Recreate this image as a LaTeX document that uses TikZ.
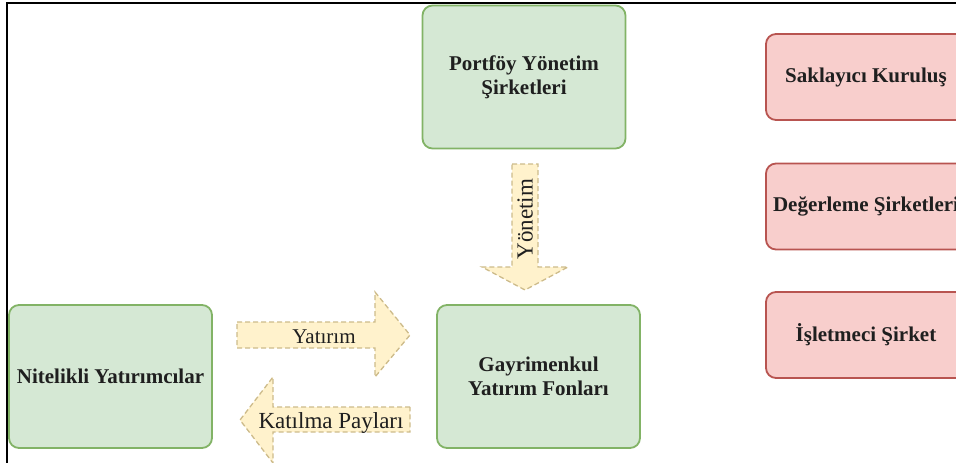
\documentclass[tikz,border=0pt]{standalone}
\usepackage{fontspec}
\setmainfont{Liberation Serif}
\definecolor{fongreen}{HTML}{D5E8D4}
\definecolor{fongreenline}{HTML}{82B366}
\definecolor{kurumred}{HTML}{F8CECC}
\definecolor{kurumredline}{HTML}{B85450}
\definecolor{okfill}{HTML}{FFF2CC}
\definecolor{okline}{HTML}{CDBB8A}
\begin{document}
\begin{tikzpicture}[x=1pt,y=-1pt]
\tikzstyle{every node}=[font=\fontsize{21}{24}\selectfont\bfseries,text=black!88,align=center]
\tikzstyle{yesilkutu}=[draw=fongreenline,fill=fongreen,line width=1.8pt,rounded corners=10pt,
                       minimum width=203pt,minimum height=143pt]
\tikzstyle{kirmizikutu}=[draw=kurumredline,fill=kurumred,line width=1.8pt,rounded corners=10pt,
                         minimum width=200pt,minimum height=86pt]
\tikzstyle{okgovde}=[draw=okline,fill=okfill,line width=1.3pt,dash pattern=on 5pt off 3pt]
\tikzstyle{oketiket}=[font=\fontsize{23}{26}\selectfont]
\useasboundingbox (0,0) rectangle (956,463);
\clip (0,0) rectangle (956,463);

\node[yesilkutu] (pys) at (524,77) {Portföy Yönetim\\Şirketleri};
\node[yesilkutu] (niy) at (110.5,376.5) {Nitelikli Yatırımcılar};
\node[yesilkutu] (gyf) at (538.5,376.5) {Gayrimenkul\\Yatırım Fonları};

\node[kirmizikutu] (sak) at (866,77) {Saklayıcı Kuruluş};
\node[kirmizikutu] (deg) at (866,206.5) {Değerleme Şirketleri};
\node[kirmizikutu] (isl) at (866,335) {İşletmeci Şirket};

\draw[okgovde] (512,164) -- (538,164) -- (538,267) -- (568,267) -- (525,290)
               -- (482,267) -- (512,267) -- cycle;
\draw[okgovde] (237,322) -- (375,322) -- (375,292) -- (410,335) -- (375,377)
               -- (375,348) -- (237,348) -- cycle;
\draw[okgovde] (410,407) -- (273,407) -- (273,377) -- (240,420) -- (273,463)
               -- (273,432) -- (410,432) -- cycle;

\node[oketiket,rotate=90] (yon) at (525,219) {Yönetim};
\node[oketiket,font=\fontsize{21}{24}\selectfont] (yat) at (324,337) {Yatırım};
\node[oketiket] (kat) at (331,423) {Katılma Payları};

\draw[line width=2pt] (7,463) -- (7,3) -- (956,3);
\end{tikzpicture}
\end{document}
